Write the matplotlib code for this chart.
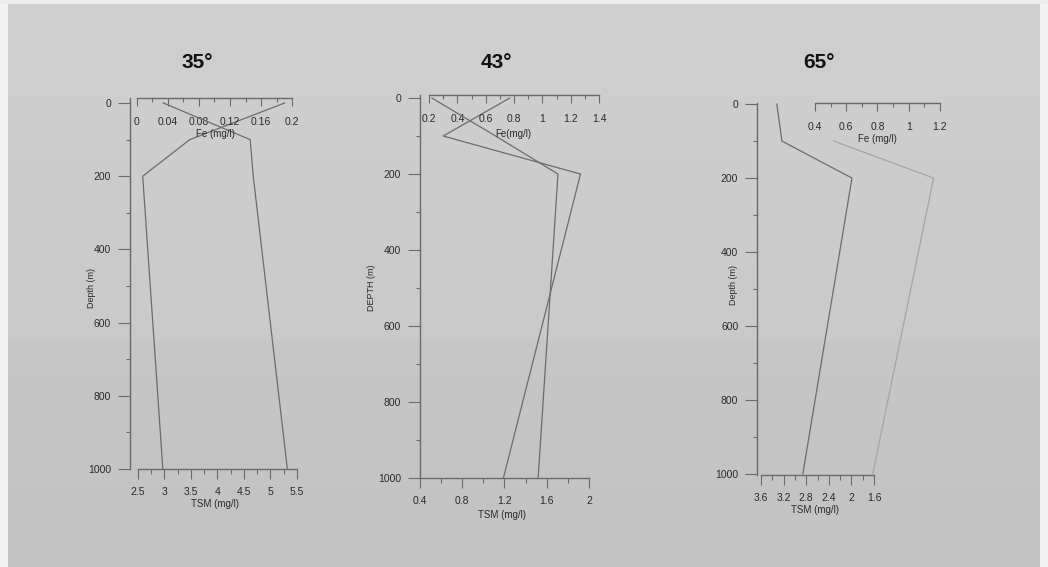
import numpy as np
import matplotlib
matplotlib.use('Agg')
import matplotlib.pyplot as plt
from matplotlib.ticker import MultipleLocator, FormatStrFormatter

plt.rcParams['font.family'] = ['Liberation Sans', 'DejaVu Sans']

# Perfiles por estación (profundidad en m, Fe y TSM en mg/l)
titles = ['35°', '43°', '65°']

depth_35 = [0, 100, 200, 1000]
fe_35 = [0.034, 0.146, 0.150, 0.194]
tsm_35 = [5.27, 3.48, 2.59, 2.97]

depth_43 = [0, 100, 200, 1000]
fe_43 = [0.22, 0.67, 1.11, 0.97]
tsm_43 = [1.25, 0.62, 1.92, 1.19]

depth_65_tsm = [0, 100, 200, 1000]
tsm_65 = [3.32, 3.23, 1.99, 2.86]
depth_65_fe = [100, 200, 1000]
fe_65 = [0.52, 1.16, 0.77]

W, H = 1048, 567
fig = plt.figure(figsize=(W / 100, H / 100), dpi=100)

# fondo tipo escaneo
bg = np.zeros((H, W, 3))
rows = np.linspace(0.815, 0.775, H)
rows[340:] -= 0.012
bg[:] = rows[:, None, None]
bg[:, :8] = 0.95
bg[:, 1040:] = 0.95
bg[:4] = 0.93
fig.figimage(bg, 0, 0, zorder=-10)

line_c = '#6c6c6c'
spine_c = '#6a6a6a'
text_c = '#2a2a2a'


def box(left, top, right, bottom):
    return [left / W, 1 - bottom / H, (right - left) / W, (bottom - top) / H]


panels = [
    dict(rect=box(130, 97.5, 300, 469), ylim=(1000, -15),
         tsm_lim=(2.35, 5.56), tsm_bounds=(2.5, 5.5), tsm_major=0.5, tsm_minor=0.25,
         fe_lim=(-0.009, 0.2103), fe_bounds=(0, 0.2), fe_major=0.04, fe_minor=0.02,
         depth_fe=depth_35, fe=fe_35, depth_tsm=depth_35, tsm=tsm_35, fe_color=line_c,
         ylabel='Depth (m)', fe_label='Fe (mg/l)',
         title_xy=(197, 62), ylabel_xy=(91, 288), tsm_xy=(215, 504), fe_xy=(215, 134)),
    dict(rect=box(420, 95, 605, 478), ylim=(1000, -8),
         tsm_lim=(0.4, 2.152), tsm_bounds=(0.4, 2.0), tsm_major=0.4, tsm_minor=0.2,
         fe_lim=(0.136, 1.442), fe_bounds=(0.2, 1.4), fe_major=0.2, fe_minor=0.1,
         depth_fe=depth_43, fe=fe_43, depth_tsm=depth_43, tsm=tsm_43, fe_color=line_c,
         ylabel='DEPTH (m)', fe_label='Fe(mg/l)',
         title_xy=(496, 62), ylabel_xy=(371, 288), tsm_xy=(502, 515), fe_xy=(513, 134)),
    dict(rect=box(757, 103, 945, 475), ylim=(1003, -3),
         tsm_lim=(3.671, 0.343), tsm_bounds=(1.6, 3.6), tsm_major=0.4, tsm_minor=0.2,
         fe_lim=(0.028, 1.233), fe_bounds=(0.4, 1.2), fe_major=0.2, fe_minor=0.1,
         depth_fe=depth_65_fe, fe=fe_65, depth_tsm=depth_65_tsm, tsm=tsm_65, fe_color='#a9a3a8',
         ylabel='Depth (m)', fe_label='Fe (mg/l)',
         title_xy=(819, 62), ylabel_xy=(733, 285), tsm_xy=(815, 510), fe_xy=(877, 139)),
]

for title, p in zip(titles, panels):
    ax = fig.add_axes(p['rect'])
    ax.patch.set_alpha(0)
    ax.set_ylim(*p['ylim'])
    ax.set_xlim(*p['tsm_lim'])
    ax.plot(p['tsm'], p['depth_tsm'], color=line_c, lw=0.9)

    ax.spines['top'].set_visible(False)
    ax.spines['right'].set_visible(False)
    ax.spines['left'].set_bounds(p['ylim'][0], p['ylim'][1])
    ax.spines['bottom'].set_bounds(*p['tsm_bounds'])
    for s in ('left', 'bottom'):
        ax.spines[s].set_color(spine_c)
        ax.spines[s].set_linewidth(1.0)

    ax.yaxis.set_major_locator(MultipleLocator(200))
    ax.yaxis.set_minor_locator(MultipleLocator(100))
    ax.tick_params(axis='y', which='major', direction='out', length=8.5, width=0.8,
                   pad=5, labelsize=7.5, color=spine_c, labelcolor=text_c)
    ax.tick_params(axis='y', which='minor', direction='out', length=3, width=0.8, color=spine_c)

    lo, hi = p['tsm_bounds']
    ax.set_xticks(np.arange(lo, hi + 1e-6, p['tsm_major']))
    ax.set_xticks(np.arange(lo, hi + 1e-6, p['tsm_minor']), minor=True)
    ax.xaxis.set_major_formatter(FormatStrFormatter('%g'))
    ax.tick_params(axis='x', which='major', direction='out', length=7, width=0.8,
                   pad=6, labelsize=7.5, color=spine_c, labelcolor=text_c)
    ax.tick_params(axis='x', which='minor', direction='out', length=3.5, width=0.8, color=spine_c)

    ax2 = ax.twiny()
    ax2.set_xlim(*p['fe_lim'])
    ax2.plot(p['fe'], p['depth_fe'], color=p['fe_color'], lw=0.9)
    for s in ('left', 'right', 'bottom'):
        ax2.spines[s].set_visible(False)
    ax2.spines['top'].set_bounds(*p['fe_bounds'])
    ax2.spines['top'].set_color(spine_c)
    ax2.spines['top'].set_linewidth(1.0)
    lo, hi = p['fe_bounds']
    ax2.set_xticks(np.arange(lo, hi + 1e-6, p['fe_major']))
    ax2.set_xticks(np.arange(lo, hi + 1e-6, p['fe_minor']), minor=True)
    ax2.xaxis.set_major_formatter(FormatStrFormatter('%g'))
    ax2.tick_params(axis='x', which='major', direction='in', length=6, width=0.8,
                    pad=-21, labelsize=7.5, color=spine_c, labelcolor=text_c)
    ax2.tick_params(axis='x', which='minor', direction='in', length=3, width=0.8, color=spine_c)

    tx, ty = p['title_xy']
    fig.text(tx / W, 1 - ty / H, title, ha='center', va='center',
             fontsize=15, fontweight='bold', color='#111111')
    lx, ly = p['ylabel_xy']
    fig.text(lx / W, 1 - ly / H, p['ylabel'], ha='center', va='center',
             rotation=90, fontsize=6.5, color=text_c)
    sx, sy = p['tsm_xy']
    fig.text(sx / W, 1 - sy / H, 'TSM (mg/l)', ha='center', va='center',
             fontsize=7, color=text_c)
    fx, fy = p['fe_xy']
    fig.text(fx / W, 1 - fy / H, p['fe_label'], ha='center', va='center',
             fontsize=7, color=text_c)

fig.savefig('out.png', dpi=100)
